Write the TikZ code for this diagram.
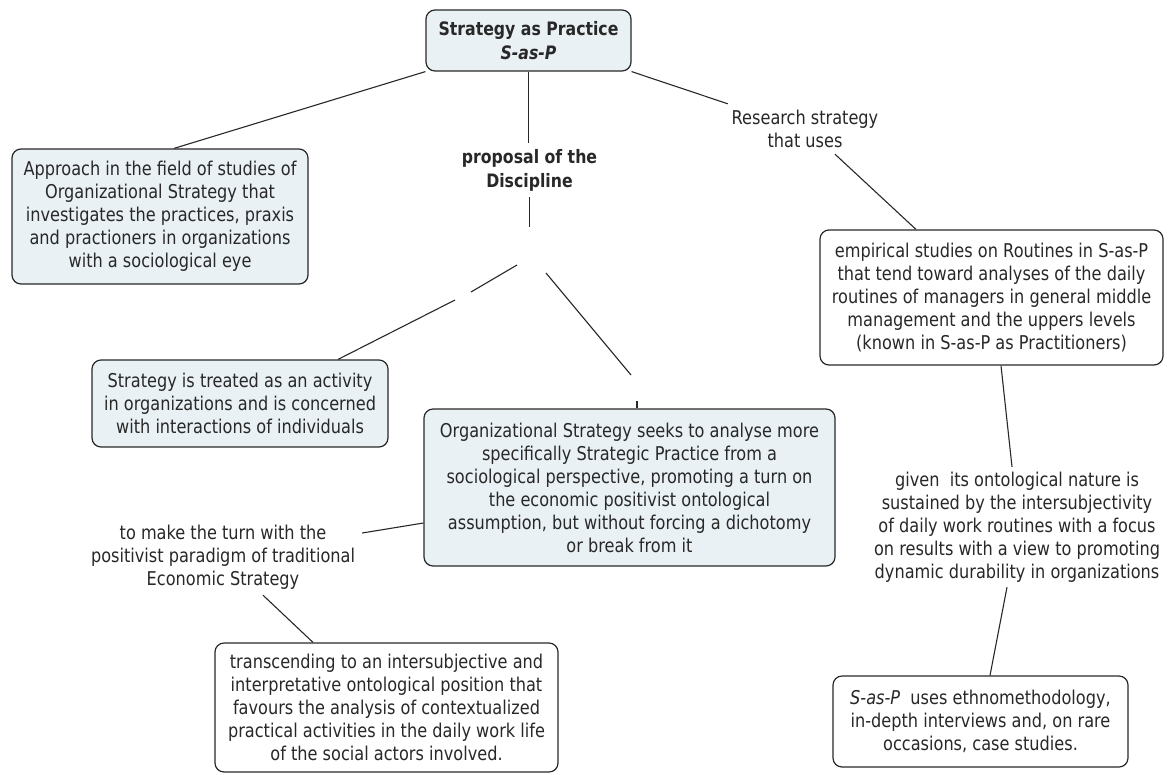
\documentclass[tikz,border=0pt]{standalone}
\usepackage{fontspec}
\setmainfont{DejaVu Sans}[FakeStretch=0.85]
\definecolor{boxfill}{RGB}{233,241,245}
\definecolor{ink}{RGB}{40,40,40}
\begin{document}
\begin{tikzpicture}[x=1pt,y=-1pt,
  txt/.style={font=\fontsize{19}{23}\selectfont, text=ink, align=center, inner sep=0pt},
  boldtxt/.style={txt, font=\fontsize{18.5}{24}\selectfont\bfseries},
  concept/.style={draw=ink, line width=1.2pt, rounded corners=9pt},
  shaded/.style={txt, concept, fill=boxfill},
  plain/.style={txt, concept, fill=white},
  lbl/.style={txt},
  link/.style={draw=ink, line width=1.1pt}]

% canvas
\fill[white] (0,0) rectangle (1169,774);
\useasboundingbox (0,0) rectangle (1169,774);

% concepts
\node[shaded, boldtxt, minimum width=205pt, minimum height=61pt] (top) at (528.5,40.5)
  {Strategy as Practice\\\textit{S-as-P}};

\node[shaded, minimum width=296pt, minimum height=135pt] (appr) at (160,216.5)
  {Approach in the field of studies of\\Organizational Strategy that\\investigates the practices, praxis\\and practioners in organizations\\with a sociological eye};

\node[lbl, boldtxt, minimum width=150pt, minimum height=54pt] (prop) at (529.5,170)
  {proposal of the\\Discipline};

\node[lbl, minimum width=154pt, minimum height=50pt] (research) at (805,129)
  {Research strategy\\that uses};

\node[plain, minimum width=343pt, minimum height=135pt] (emp) at (991.5,297.5)
  {empirical studies on Routines in S-as-P\\that tend toward analyses of the daily\\routines of managers in general middle\\management and the uppers levels\\(known in S-as-P as Practitioners)};

\node[shaded, minimum width=296pt, minimum height=87pt] (strat) at (240,403.5)
  {Strategy is treated as an activity\\in organizations and is concerned\\with interactions of individuals};

\node[shaded, minimum width=411pt, minimum height=157pt] (org) at (629.5,487.5)
  {Organizational Strategy seeks to analyse more\\specifically Strategic Practice from a\\sociological perspective, promoting a turn on\\the economic positivist ontological\\assumption, but without forcing a dichotomy\\or break from it};

\node[lbl, minimum width=278pt, minimum height=76pt] (turn) at (223,557)
  {to make the turn with the\\positivist paradigm of traditional\\Economic Strategy};

\node[plain, minimum width=343pt, minimum height=129pt] (trans) at (386.5,707.5)
  {transcending to an intersubjective and\\interpretative ontological position that\\favours the analysis of contextualized\\practical activities in the daily work life\\of the social actors involved.};

\node[lbl, minimum width=290pt, minimum height=120pt] (given) at (1017,527)
  {given\ \ its ontological nature is\\sustained by the intersubjectivity\\of daily work routines with a focus\\on results with a view to promoting\\dynamic durability in organizations};

\node[plain, minimum width=295pt, minimum height=91pt] (sasp) at (980.5,721.5)
  {\textit{S-as-P}\ \ uses ethnomethodology,\\in-depth interviews and, on rare\\occasions, case studies.};

% junction below the discipline label and the breaks of its two links
\coordinate (jtop) at (529.5,227);
\coordinate (jl) at (517,265);
\coordinate (gl1) at (471,292);
\coordinate (gl2) at (455,300);
\coordinate (jr) at (546,273);
\coordinate (gr1) at (631,375);
\coordinate (gr2) at (637,401);

% links
\draw[link] (top.south) -- (top.south |- prop.north);
\draw[link] (prop.south) -- (jtop);
\draw[link] (jl) -- (gl1);
\draw[link] (gl2) -- ([xshift=98pt]strat.north);
\draw[link] (jr) -- (gr1);
\draw[link] (gr2) -- ([xshift=7.5pt]org.north);
\draw[link] (top.south west) -- ([xshift=14pt]appr.north);
\draw[link] (top.south east) -- (research.north west);
\draw[link] ([xshift=30pt]research.south) -- ([xshift=-75.5pt]emp.north);
\draw[link] ([xshift=9.5pt]emp.south) -- ([xshift=-5pt]given.north);
\draw[link] ([xshift=-10pt]given.south) -- ([xshift=9.5pt]sasp.north);
\draw[link] ([yshift=-35.5pt]org.west) -- ([yshift=24pt]turn.east);
\draw[link] ([xshift=40pt]turn.south) -- ([xshift=-73.5pt]trans.north);
\end{tikzpicture}
\end{document}
